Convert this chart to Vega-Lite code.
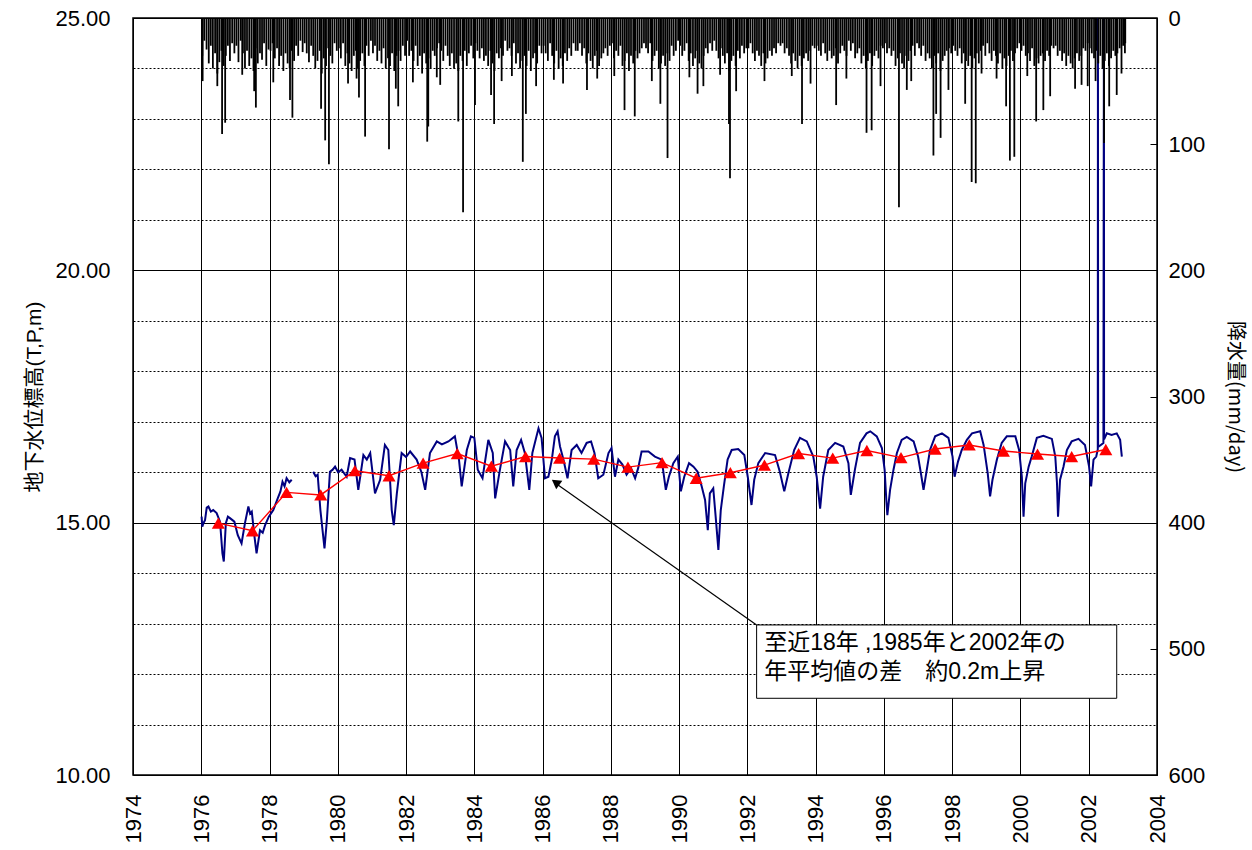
{
"$schema": "https://vega.github.io/schema/vega-lite/v6.json",
"width": 1024, "height": 757,
"autosize": {"type": "none"},
"padding": {"left": 133, "top": 18, "right": 95, "bottom": 75},
"background": "#ffffff",
"config": {"view": {"stroke": "#000000", "strokeWidth": 1.5}, "axis": {"labelColor": "#000000", "titleColor": "#000000", "labelFont": "Liberation Sans", "titleFont": "Liberation Sans, Noto Sans CJK JP", "titleFontWeight": "normal"}},
"datasets": {
"gw": [
{"t":1976.01,"g":15.12},{"t":1976.03,"g":14.92},{"t":1976.07,"g":15.0},{"t":1976.11,"g":15.05},{"t":1976.16,"g":15.3},{"t":1976.21,"g":15.32},{"t":1976.28,"g":15.22},{"t":1976.35,"g":15.25},{"t":1976.45,"g":15.19},{"t":1976.55,"g":15.02},{"t":1976.62,"g":14.39},{"t":1976.66,"g":14.23},{"t":1976.72,"g":14.99},{"t":1976.78,"g":15.12},{"t":1976.84,"g":15.09},{"t":1976.97,"g":15.02},
{"t":1977.07,"g":14.75},{"t":1977.18,"g":14.59},{"t":1977.28,"g":14.99},{"t":1977.38,"g":15.32},{"t":1977.43,"g":15.18},{"t":1977.48,"g":15.22},{"t":1977.56,"g":14.72},{"t":1977.62,"g":14.39},{"t":1977.72,"g":14.85},{"t":1977.8,"g":14.8},{"t":1977.87,"g":14.95},{"t":1977.98,"g":15.12},
{"t":1978.11,"g":15.25},{"t":1978.24,"g":15.48},{"t":1978.32,"g":15.62},{"t":1978.38,"g":15.81},{"t":1978.44,"g":15.72},{"t":1978.5,"g":15.88},{"t":1978.58,"g":15.8},{"t":1978.65,"g":15.85},{"t":1978.9,"g":null},
{"t":1979.28,"g":16.01},{"t":1979.35,"g":15.92},{"t":1979.41,"g":15.95},{"t":1979.49,"g":15.25},{"t":1979.61,"g":14.49},{"t":1979.68,"g":15.05},{"t":1979.77,"g":16.01},{"t":1979.85,"g":16.05},{"t":1979.92,"g":16.11},
{"t":1980.01,"g":16.0},{"t":1980.11,"g":16.05},{"t":1980.26,"g":15.91},{"t":1980.36,"g":16.28},{"t":1980.49,"g":16.25},{"t":1980.6,"g":15.65},{"t":1980.75,"g":16.34},{"t":1980.85,"g":16.25},{"t":1980.95,"g":16.38},
{"t":1981.09,"g":15.58},{"t":1981.24,"g":15.85},{"t":1981.38,"g":16.54},{"t":1981.48,"g":16.44},{"t":1981.58,"g":15.25},{"t":1981.64,"g":14.95},{"t":1981.73,"g":15.58},{"t":1981.87,"g":16.38},
{"t":1982.0,"g":16.3},{"t":1982.12,"g":16.41},{"t":1982.31,"g":16.25},{"t":1982.45,"g":16.0},{"t":1982.56,"g":15.65},{"t":1982.7,"g":16.38},{"t":1982.9,"g":16.61},
{"t":1983.05,"g":16.55},{"t":1983.24,"g":16.61},{"t":1983.43,"g":16.71},{"t":1983.55,"g":16.25},{"t":1983.63,"g":15.72},{"t":1983.78,"g":16.44},{"t":1983.9,"g":16.71},
{"t":1984.0,"g":16.68},{"t":1984.1,"g":16.05},{"t":1984.24,"g":15.88},{"t":1984.41,"g":16.64},{"t":1984.54,"g":16.38},{"t":1984.61,"g":15.48},{"t":1984.75,"g":16.05},{"t":1984.9,"g":16.61},
{"t":1985.05,"g":16.44},{"t":1985.14,"g":15.72},{"t":1985.24,"g":16.44},{"t":1985.37,"g":16.64},{"t":1985.48,"g":16.38},{"t":1985.61,"g":15.65},{"t":1985.7,"g":16.38},{"t":1985.88,"g":16.87},{"t":1985.97,"g":16.68},
{"t":1986.07,"g":15.88},{"t":1986.17,"g":15.91},{"t":1986.27,"g":16.25},{"t":1986.36,"g":16.71},{"t":1986.44,"g":16.81},{"t":1986.51,"g":16.51},{"t":1986.61,"g":16.25},{"t":1986.73,"g":15.88},{"t":1986.85,"g":16.44},
{"t":1987.0,"g":16.54},{"t":1987.14,"g":16.38},{"t":1987.29,"g":16.58},{"t":1987.42,"g":16.61},{"t":1987.52,"g":16.38},{"t":1987.63,"g":15.88},{"t":1987.78,"g":15.95},{"t":1987.93,"g":16.38},
{"t":1988.02,"g":16.48},{"t":1988.12,"g":15.91},{"t":1988.22,"g":16.25},{"t":1988.34,"g":16.15},{"t":1988.46,"g":15.95},{"t":1988.59,"g":16.08},{"t":1988.71,"g":15.88},{"t":1988.8,"g":16.08},{"t":1988.9,"g":16.41},
{"t":1989.1,"g":16.41},{"t":1989.29,"g":16.31},{"t":1989.49,"g":16.25},{"t":1989.61,"g":15.65},{"t":1989.7,"g":15.91},{"t":1989.83,"g":16.18},{"t":1989.96,"g":16.31},
{"t":1990.05,"g":15.62},{"t":1990.15,"g":15.91},{"t":1990.29,"g":16.18},{"t":1990.42,"g":16.11},{"t":1990.54,"g":16.01},{"t":1990.66,"g":15.72},{"t":1990.76,"g":15.45},{"t":1990.84,"g":14.85},{"t":1990.9,"g":15.58},
{"t":1991.0,"g":15.68},{"t":1991.07,"g":15.12},{"t":1991.15,"g":14.46},{"t":1991.22,"g":15.25},{"t":1991.31,"g":15.72},{"t":1991.42,"g":16.25},{"t":1991.54,"g":16.44},{"t":1991.73,"g":16.46},{"t":1991.91,"g":16.34},
{"t":1992.01,"g":15.91},{"t":1992.12,"g":15.35},{"t":1992.2,"g":15.85},{"t":1992.32,"g":16.18},{"t":1992.52,"g":16.38},{"t":1992.81,"g":16.34},{"t":1992.95,"g":16.01},
{"t":1993.08,"g":15.62},{"t":1993.2,"g":15.98},{"t":1993.37,"g":16.44},{"t":1993.54,"g":16.68},{"t":1993.74,"g":16.61},{"t":1993.93,"g":16.31},
{"t":1994.03,"g":15.91},{"t":1994.13,"g":15.28},{"t":1994.22,"g":15.91},{"t":1994.37,"g":16.44},{"t":1994.57,"g":16.58},{"t":1994.81,"g":16.51},{"t":1994.96,"g":16.18},
{"t":1995.03,"g":15.55},{"t":1995.15,"g":16.05},{"t":1995.3,"g":16.58},{"t":1995.49,"g":16.77},{"t":1995.6,"g":16.81},{"t":1995.79,"g":16.71},{"t":1995.94,"g":16.48},
{"t":1996.02,"g":16.05},{"t":1996.07,"g":15.45},{"t":1996.1,"g":15.15},{"t":1996.18,"g":15.65},{"t":1996.28,"g":16.05},{"t":1996.38,"g":16.38},{"t":1996.52,"g":16.64},{"t":1996.67,"g":16.7},{"t":1996.87,"g":16.61},
{"t":1997.0,"g":16.31},{"t":1997.09,"g":15.95},{"t":1997.16,"g":15.65},{"t":1997.24,"g":15.98},{"t":1997.35,"g":16.44},{"t":1997.5,"g":16.71},{"t":1997.7,"g":16.77},{"t":1997.89,"g":16.68},
{"t":1998.01,"g":16.31},{"t":1998.07,"g":15.91},{"t":1998.17,"g":16.21},{"t":1998.28,"g":16.44},{"t":1998.43,"g":16.64},{"t":1998.58,"g":16.77},{"t":1998.82,"g":16.81},{"t":1998.92,"g":16.54},
{"t":1999.04,"g":15.98},{"t":1999.11,"g":15.52},{"t":1999.18,"g":15.85},{"t":1999.31,"g":16.25},{"t":1999.45,"g":16.58},{"t":1999.6,"g":16.71},{"t":1999.85,"g":16.71},{"t":1999.96,"g":16.44},
{"t":2000.04,"g":15.91},{"t":2000.09,"g":15.12},{"t":2000.14,"g":15.78},{"t":2000.24,"g":16.11},{"t":2000.33,"g":16.31},{"t":2000.48,"g":16.68},{"t":2000.67,"g":16.72},{"t":2000.92,"g":16.66},
{"t":2001.02,"g":16.31},{"t":2001.07,"g":15.78},{"t":2001.1,"g":15.12},{"t":2001.16,"g":15.85},{"t":2001.26,"g":16.11},{"t":2001.36,"g":16.44},{"t":2001.5,"g":16.61},{"t":2001.7,"g":16.66},{"t":2001.89,"g":16.54},
{"t":2002.01,"g":16.11},{"t":2002.07,"g":15.72},{"t":2002.14,"g":16.25},{"t":2002.22,"g":16.31},{"t":2002.265,"g":16.45},{"t":2002.27,"g":25},{"t":2002.275,"g":16.5},{"t":2002.43,"g":16.58},{"t":2002.445,"g":25},{"t":2002.45,"g":16.65},{"t":2002.53,"g":16.77},{"t":2002.67,"g":16.74},{"t":2002.82,"g":16.77},{"t":2002.92,"g":16.64},{"t":2002.97,"g":16.31}
],
"mean": [
{"t":1976.5,"g":14.99},{"t":1977.5,"g":14.84},{"t":1978.5,"g":15.6},{"t":1979.5,"g":15.55},{"t":1980.5,"g":16.03},{"t":1981.5,"g":15.93},{"t":1982.5,"g":16.18},{"t":1983.5,"g":16.37},{"t":1984.5,"g":16.12},{"t":1985.5,"g":16.31},{"t":1986.5,"g":16.28},{"t":1987.5,"g":16.26},{"t":1988.5,"g":16.1},{"t":1989.5,"g":16.19},{"t":1990.5,"g":15.88},{"t":1991.5,"g":15.99},{"t":1992.5,"g":16.14},{"t":1993.5,"g":16.37},{"t":1994.5,"g":16.28},{"t":1995.5,"g":16.43},{"t":1996.5,"g":16.29},{"t":1997.5,"g":16.46},{"t":1998.5,"g":16.54},{"t":1999.5,"g":16.42},{"t":2000.5,"g":16.36},{"t":2001.5,"g":16.31},{"t":2002.5,"g":16.45}
],
"rain": [
{"t":1976.03,"p":30},{"t":1976.09,"p":18},{"t":1976.155,"p":25},{"t":1976.22,"p":36},{"t":1976.28,"p":22},{"t":1976.34,"p":40},{"t":1976.405,"p":28},{"t":1976.47,"p":44},{"t":1976.53,"p":35},{"t":1976.59,"p":26},{"t":1976.655,"p":38},{"t":1976.72,"p":30},{"t":1976.78,"p":22},{"t":1976.84,"p":34},{"t":1976.905,"p":20},{"t":1976.97,"p":28},
{"t":1977.03,"p":22},{"t":1977.09,"p":35},{"t":1977.155,"p":18},{"t":1977.22,"p":28},{"t":1977.28,"p":40},{"t":1977.34,"p":26},{"t":1977.405,"p":38},{"t":1977.47,"p":32},{"t":1977.53,"p":42},{"t":1977.59,"p":24},{"t":1977.655,"p":36},{"t":1977.72,"p":28},{"t":1977.78,"p":33},{"t":1977.84,"p":20},{"t":1977.905,"p":38},{"t":1977.97,"p":25},
{"t":1978.03,"p":26},{"t":1978.09,"p":20},{"t":1978.155,"p":32},{"t":1978.22,"p":24},{"t":1978.28,"p":38},{"t":1978.34,"p":30},{"t":1978.405,"p":42},{"t":1978.47,"p":28},{"t":1978.53,"p":36},{"t":1978.59,"p":40},{"t":1978.655,"p":26},{"t":1978.72,"p":34},{"t":1978.78,"p":22},{"t":1978.84,"p":30},{"t":1978.905,"p":18},{"t":1978.97,"p":27},
{"t":1979.03,"p":20},{"t":1979.09,"p":28},{"t":1979.155,"p":35},{"t":1979.22,"p":22},{"t":1979.28,"p":30},{"t":1979.34,"p":40},{"t":1979.405,"p":34},{"t":1979.47,"p":26},{"t":1979.53,"p":44},{"t":1979.59,"p":32},{"t":1979.655,"p":38},{"t":1979.72,"p":24},{"t":1979.78,"p":30},{"t":1979.84,"p":36},{"t":1979.905,"p":20},{"t":1979.97,"p":26},
{"t":1980.03,"p":24},{"t":1980.09,"p":32},{"t":1980.155,"p":20},{"t":1980.22,"p":38},{"t":1980.28,"p":28},{"t":1980.34,"p":36},{"t":1980.405,"p":42},{"t":1980.47,"p":30},{"t":1980.53,"p":26},{"t":1980.59,"p":40},{"t":1980.655,"p":34},{"t":1980.72,"p":28},{"t":1980.78,"p":38},{"t":1980.84,"p":22},{"t":1980.905,"p":30},{"t":1980.97,"p":18},
{"t":1981.03,"p":28},{"t":1981.09,"p":22},{"t":1981.155,"p":34},{"t":1981.22,"p":26},{"t":1981.28,"p":36},{"t":1981.34,"p":24},{"t":1981.405,"p":40},{"t":1981.47,"p":32},{"t":1981.53,"p":38},{"t":1981.59,"p":28},{"t":1981.655,"p":42},{"t":1981.72,"p":30},{"t":1981.78,"p":26},{"t":1981.84,"p":34},{"t":1981.905,"p":22},{"t":1981.97,"p":30},
{"t":1982.03,"p":18},{"t":1982.09,"p":30},{"t":1982.155,"p":26},{"t":1982.22,"p":34},{"t":1982.28,"p":22},{"t":1982.34,"p":38},{"t":1982.405,"p":30},{"t":1982.47,"p":44},{"t":1982.53,"p":28},{"t":1982.59,"p":36},{"t":1982.655,"p":32},{"t":1982.72,"p":40},{"t":1982.78,"p":26},{"t":1982.84,"p":30},{"t":1982.905,"p":24},{"t":1982.97,"p":20},
{"t":1983.03,"p":26},{"t":1983.09,"p":34},{"t":1983.155,"p":22},{"t":1983.22,"p":30},{"t":1983.28,"p":38},{"t":1983.34,"p":28},{"t":1983.405,"p":40},{"t":1983.47,"p":36},{"t":1983.53,"p":42},{"t":1983.59,"p":30},{"t":1983.655,"p":34},{"t":1983.72,"p":26},{"t":1983.78,"p":38},{"t":1983.84,"p":28},{"t":1983.905,"p":22},{"t":1983.97,"p":32},
{"t":1984.03,"p":20},{"t":1984.09,"p":26},{"t":1984.155,"p":32},{"t":1984.22,"p":24},{"t":1984.28,"p":34},{"t":1984.34,"p":30},{"t":1984.405,"p":38},{"t":1984.47,"p":26},{"t":1984.53,"p":36},{"t":1984.59,"p":42},{"t":1984.655,"p":28},{"t":1984.72,"p":32},{"t":1984.78,"p":24},{"t":1984.84,"p":30},{"t":1984.905,"p":18},{"t":1984.97,"p":26},
{"t":1985.03,"p":24},{"t":1985.09,"p":30},{"t":1985.155,"p":20},{"t":1985.22,"p":36},{"t":1985.28,"p":28},{"t":1985.34,"p":40},{"t":1985.405,"p":34},{"t":1985.47,"p":30},{"t":1985.53,"p":38},{"t":1985.59,"p":26},{"t":1985.655,"p":42},{"t":1985.72,"p":32},{"t":1985.78,"p":28},{"t":1985.84,"p":36},{"t":1985.905,"p":22},{"t":1985.97,"p":28},
{"t":1986.03,"p":22},{"t":1986.09,"p":28},{"t":1986.155,"p":34},{"t":1986.22,"p":20},{"t":1986.28,"p":30},{"t":1986.34,"p":36},{"t":1986.405,"p":26},{"t":1986.47,"p":40},{"t":1986.53,"p":32},{"t":1986.59,"p":38},{"t":1986.655,"p":28},{"t":1986.72,"p":34},{"t":1986.78,"p":24},{"t":1986.84,"p":30},{"t":1986.905,"p":20},{"t":1986.97,"p":26},
{"t":1987.03,"p":26},{"t":1987.09,"p":20},{"t":1987.155,"p":30},{"t":1987.22,"p":24},{"t":1987.28,"p":36},{"t":1987.34,"p":28},{"t":1987.405,"p":34},{"t":1987.47,"p":40},{"t":1987.53,"p":30},{"t":1987.59,"p":26},{"t":1987.655,"p":38},{"t":1987.72,"p":32},{"t":1987.78,"p":28},{"t":1987.84,"p":24},{"t":1987.905,"p":30},{"t":1987.97,"p":22},
{"t":1988.03,"p":20},{"t":1988.09,"p":32},{"t":1988.155,"p":26},{"t":1988.22,"p":30},{"t":1988.28,"p":22},{"t":1988.34,"p":38},{"t":1988.405,"p":34},{"t":1988.47,"p":28},{"t":1988.53,"p":42},{"t":1988.59,"p":30},{"t":1988.655,"p":36},{"t":1988.72,"p":26},{"t":1988.78,"p":32},{"t":1988.84,"p":28},{"t":1988.905,"p":24},{"t":1988.97,"p":20},
{"t":1989.03,"p":24},{"t":1989.09,"p":28},{"t":1989.155,"p":20},{"t":1989.22,"p":34},{"t":1989.28,"p":30},{"t":1989.34,"p":26},{"t":1989.405,"p":40},{"t":1989.47,"p":36},{"t":1989.53,"p":30},{"t":1989.59,"p":38},{"t":1989.655,"p":28},{"t":1989.72,"p":34},{"t":1989.78,"p":22},{"t":1989.84,"p":30},{"t":1989.905,"p":26},{"t":1989.97,"p":18},
{"t":1990.03,"p":22},{"t":1990.09,"p":30},{"t":1990.155,"p":26},{"t":1990.22,"p":20},{"t":1990.28,"p":34},{"t":1990.34,"p":28},{"t":1990.405,"p":38},{"t":1990.47,"p":32},{"t":1990.53,"p":26},{"t":1990.59,"p":36},{"t":1990.655,"p":40},{"t":1990.72,"p":30},{"t":1990.78,"p":24},{"t":1990.84,"p":28},{"t":1990.905,"p":20},{"t":1990.97,"p":26},
{"t":1991.03,"p":18},{"t":1991.09,"p":26},{"t":1991.155,"p":32},{"t":1991.22,"p":24},{"t":1991.28,"p":30},{"t":1991.34,"p":36},{"t":1991.405,"p":28},{"t":1991.47,"p":42},{"t":1991.53,"p":34},{"t":1991.59,"p":30},{"t":1991.655,"p":38},{"t":1991.72,"p":26},{"t":1991.78,"p":32},{"t":1991.84,"p":22},{"t":1991.905,"p":28},{"t":1991.97,"p":24},
{"t":1992.03,"p":24},{"t":1992.09,"p":20},{"t":1992.155,"p":28},{"t":1992.22,"p":34},{"t":1992.28,"p":26},{"t":1992.34,"p":30},{"t":1992.405,"p":38},{"t":1992.47,"p":28},{"t":1992.53,"p":36},{"t":1992.59,"p":32},{"t":1992.655,"p":26},{"t":1992.72,"p":30},{"t":1992.78,"p":24},{"t":1992.84,"p":28},{"t":1992.905,"p":20},{"t":1992.97,"p":22},
{"t":1993.03,"p":20},{"t":1993.09,"p":28},{"t":1993.155,"p":24},{"t":1993.22,"p":30},{"t":1993.28,"p":36},{"t":1993.34,"p":28},{"t":1993.405,"p":34},{"t":1993.47,"p":40},{"t":1993.53,"p":30},{"t":1993.59,"p":38},{"t":1993.655,"p":32},{"t":1993.72,"p":28},{"t":1993.78,"p":34},{"t":1993.84,"p":26},{"t":1993.905,"p":22},{"t":1993.97,"p":24},
{"t":1994.03,"p":22},{"t":1994.09,"p":26},{"t":1994.155,"p":30},{"t":1994.22,"p":20},{"t":1994.28,"p":28},{"t":1994.34,"p":34},{"t":1994.405,"p":26},{"t":1994.47,"p":32},{"t":1994.53,"p":30},{"t":1994.59,"p":24},{"t":1994.655,"p":36},{"t":1994.72,"p":28},{"t":1994.78,"p":22},{"t":1994.84,"p":26},{"t":1994.905,"p":30},{"t":1994.97,"p":18},
{"t":1995.03,"p":26},{"t":1995.09,"p":20},{"t":1995.155,"p":32},{"t":1995.22,"p":28},{"t":1995.28,"p":24},{"t":1995.34,"p":36},{"t":1995.405,"p":30},{"t":1995.47,"p":40},{"t":1995.53,"p":34},{"t":1995.59,"p":28},{"t":1995.655,"p":38},{"t":1995.72,"p":30},{"t":1995.78,"p":26},{"t":1995.84,"p":32},{"t":1995.905,"p":22},{"t":1995.97,"p":24},
{"t":1996.03,"p":20},{"t":1996.09,"p":28},{"t":1996.155,"p":24},{"t":1996.22,"p":30},{"t":1996.28,"p":26},{"t":1996.34,"p":38},{"t":1996.405,"p":32},{"t":1996.47,"p":28},{"t":1996.53,"p":36},{"t":1996.59,"p":40},{"t":1996.655,"p":30},{"t":1996.72,"p":34},{"t":1996.78,"p":26},{"t":1996.84,"p":22},{"t":1996.905,"p":30},{"t":1996.97,"p":20},
{"t":1997.03,"p":24},{"t":1997.09,"p":30},{"t":1997.155,"p":22},{"t":1997.22,"p":34},{"t":1997.28,"p":28},{"t":1997.34,"p":32},{"t":1997.405,"p":40},{"t":1997.47,"p":30},{"t":1997.53,"p":36},{"t":1997.59,"p":28},{"t":1997.655,"p":42},{"t":1997.72,"p":34},{"t":1997.78,"p":30},{"t":1997.84,"p":26},{"t":1997.905,"p":24},{"t":1997.97,"p":28},
{"t":1998.03,"p":22},{"t":1998.09,"p":26},{"t":1998.155,"p":30},{"t":1998.22,"p":24},{"t":1998.28,"p":36},{"t":1998.34,"p":28},{"t":1998.405,"p":34},{"t":1998.47,"p":38},{"t":1998.53,"p":30},{"t":1998.59,"p":40},{"t":1998.655,"p":32},{"t":1998.72,"p":28},{"t":1998.78,"p":36},{"t":1998.84,"p":26},{"t":1998.905,"p":22},{"t":1998.97,"p":30},
{"t":1999.03,"p":20},{"t":1999.09,"p":28},{"t":1999.155,"p":34},{"t":1999.22,"p":26},{"t":1999.28,"p":30},{"t":1999.34,"p":36},{"t":1999.405,"p":28},{"t":1999.47,"p":40},{"t":1999.53,"p":32},{"t":1999.59,"p":38},{"t":1999.655,"p":30},{"t":1999.72,"p":26},{"t":1999.78,"p":34},{"t":1999.84,"p":28},{"t":1999.905,"p":24},{"t":1999.97,"p":20},
{"t":2000.03,"p":26},{"t":2000.09,"p":22},{"t":2000.155,"p":30},{"t":2000.22,"p":28},{"t":2000.28,"p":34},{"t":2000.34,"p":24},{"t":2000.405,"p":38},{"t":2000.47,"p":32},{"t":2000.53,"p":36},{"t":2000.59,"p":30},{"t":2000.655,"p":28},{"t":2000.72,"p":34},{"t":2000.78,"p":26},{"t":2000.84,"p":30},{"t":2000.905,"p":22},{"t":2000.97,"p":24},
{"t":2001.03,"p":22},{"t":2001.09,"p":30},{"t":2001.155,"p":26},{"t":2001.22,"p":34},{"t":2001.28,"p":28},{"t":2001.34,"p":38},{"t":2001.405,"p":30},{"t":2001.47,"p":36},{"t":2001.53,"p":40},{"t":2001.59,"p":32},{"t":2001.655,"p":28},{"t":2001.72,"p":34},{"t":2001.78,"p":30},{"t":2001.84,"p":24},{"t":2001.905,"p":26},{"t":2001.97,"p":20},
{"t":2002.03,"p":24},{"t":2002.09,"p":28},{"t":2002.155,"p":32},{"t":2002.22,"p":26},{"t":2002.28,"p":36},{"t":2002.34,"p":30},{"t":2002.405,"p":40},{"t":2002.47,"p":34},{"t":2002.53,"p":28},{"t":2002.59,"p":38},{"t":2002.655,"p":32},{"t":2002.72,"p":26},{"t":2002.78,"p":30},{"t":2002.84,"p":28},{"t":2002.905,"p":24},{"t":2002.97,"p":22},
{"t":2003.03,"p":22},{"t":2003.06,"p":28},
{"t":1976.04,"p":50},{"t":1976.47,"p":54},{"t":1976.61,"p":92},{"t":1976.7,"p":83},{"t":1977.2,"p":45},{"t":1977.55,"p":58},{"t":1977.6,"p":71},{"t":1978.11,"p":51},{"t":1978.6,"p":65},{"t":1978.67,"p":79},{"t":1979.51,"p":72},{"t":1979.63,"p":97},{"t":1979.74,"p":116},{"t":1980.3,"p":52},{"t":1980.55,"p":48},{"t":1980.62,"p":63},{"t":1980.8,"p":94},{"t":1981.5,"p":104},{"t":1981.7,"p":56},{"t":1981.77,"p":70},{"t":1982.2,"p":51},{"t":1982.62,"p":98},{"t":1982.65,"p":86},{"t":1982.9,"p":47},{"t":1983.0,"p":53},{"t":1983.53,"p":82},{"t":1983.67,"p":154},{"t":1984.02,"p":69},{"t":1984.49,"p":61},{"t":1984.58,"p":84},{"t":1984.8,"p":50},{"t":1985.1,"p":46},{"t":1985.42,"p":114},{"t":1985.51,"p":76},{"t":1985.81,"p":54},{"t":1986.33,"p":49},{"t":1986.6,"p":52},{"t":1987.3,"p":57},{"t":1987.6,"p":48},{"t":1988.1,"p":46},{"t":1988.4,"p":73},{"t":1988.7,"p":78},{"t":1989.2,"p":50},{"t":1989.45,"p":68},{"t":1989.66,"p":111},{"t":1990.3,"p":47},{"t":1990.54,"p":60},{"t":1990.71,"p":54},{"t":1991.2,"p":45},{"t":1991.46,"p":84},{"t":1991.49,"p":127},{"t":1991.67,"p":58},{"t":1992.5,"p":50},{"t":1993.3,"p":46},{"t":1993.6,"p":84},{"t":1993.85,"p":52},{"t":1994.6,"p":69},{"t":1994.9,"p":48},{"t":1995.49,"p":91},{"t":1995.64,"p":89},{"t":1995.9,"p":54},{"t":1996.44,"p":150},{"t":1996.67,"p":57},{"t":1996.8,"p":50},{"t":1997.45,"p":109},{"t":1997.53,"p":76},{"t":1997.66,"p":95},{"t":1997.89,"p":57},{"t":1998.38,"p":68},{"t":1998.57,"p":130},{"t":1998.69,"p":131},{"t":1998.86,"p":44},{"t":1999.3,"p":48},{"t":1999.58,"p":70},{"t":1999.69,"p":113},{"t":1999.82,"p":110},{"t":2000.2,"p":46},{"t":2000.46,"p":82},{"t":2000.67,"p":73},{"t":2000.87,"p":62},{"t":2001.6,"p":56},{"t":2001.79,"p":53},{"t":2001.97,"p":54},{"t":2002.2,"p":50},{"t":2002.45,"p":99},{"t":2002.6,"p":70},{"t":2002.82,"p":61},{"t":2002.96,"p":44},{"t":2003.07,"p":20}
]
},
"resolve": {"scale": {"y": "independent"}},
"layer": [
{"layer": [
{"data": {"name": "gw"}, "mark": {"type": "line", "color": "#000080", "strokeWidth": 2},
 "encoding": {
  "x": {"field": "t", "type": "quantitative", "title": null, "scale": {"domain": [1974, 2004], "nice": false, "zero": false},
   "axis": {"values": [1974,1975,1976,1977,1978,1979,1980,1981,1982,1983,1984,1985,1986,1987,1988,1989,1990,1991,1992,1993,1994,1995,1996,1997,1998,1999,2000,2001,2002,2003,2004], "format": "d", "labelExpr": "datum.value % 2 === 0 ? datum.label : ''", "labelAngle": -90, "labelFontSize": 22, "labelPadding": 19, "labelOverlap": false, "labelFlush": false, "ticks": false, "domain": false, "grid": true, "gridColor": "#000000", "gridOpacity": 1, "gridWidth": 1, "gridDash": {"condition": {"test": "datum.value % 2 !== 0", "value": [2, 2]}, "value": []}}},
  "y": {"field": "g", "type": "quantitative", "title": "地下水位標高(T,P,m)", "scale": {"domain": [10, 25], "nice": false, "zero": false},
   "axis": {"values": [10,11,12,13,14,15,16,17,18,19,20,21,22,23,24,25], "labelExpr": "datum.value % 5 === 0 ? format(datum.value, '.2f') : ''", "labelFontSize": 22, "labelPadding": 23, "labelOverlap": false, "labelFlush": false, "ticks": false, "domain": false, "grid": true, "gridColor": "#000000", "gridOpacity": 1, "gridWidth": 1, "gridDash": {"condition": {"test": "datum.value % 5 !== 0", "value": [2, 2]}, "value": []}, "titleFontSize": 21, "titlePadding": 10}}
 }},
{"data": {"name": "mean"}, "mark": {"type": "line", "color": "#ff0000", "strokeWidth": 1.4},
 "encoding": {"x": {"field": "t", "type": "quantitative", "title": null}, "y": {"field": "g", "type": "quantitative", "title": "地下水位標高(T,P,m)"}}},
{"data": {"name": "mean"}, "mark": {"type": "point", "shape": "triangle-up", "filled": true, "color": "#ff0000", "size": 170, "opacity": 1},
 "encoding": {"x": {"field": "t", "type": "quantitative", "title": null}, "y": {"field": "g", "type": "quantitative", "title": "地下水位標高(T,P,m)"}}},
{"data": {"values": [{}]}, "mark": {"type": "rule", "color": "#000000", "strokeWidth": 1.2},
 "encoding": {"x": {"datum": 1992.27, "type": "quantitative", "title": null}, "y": {"datum": 12.973, "type": "quantitative", "title": "地下水位標高(T,P,m)"}, "x2": {"datum": 1986.36}, "y2": {"datum": 15.79}}},
{"data": {"values": [{}]}, "mark": {"type": "point", "shape": "triangle-up", "filled": true, "color": "#000000", "size": 110, "opacity": 1, "angle": 305.8},
 "encoding": {"x": {"datum": 1986.38, "type": "quantitative", "title": null}, "y": {"datum": 15.8, "type": "quantitative", "title": "地下水位標高(T,P,m)"}}},
{"data": {"values": [{}]}, "mark": {"type": "rect", "fill": "#ffffff", "stroke": "#000000", "strokeWidth": 1},
 "encoding": {"x": {"datum": 1992.27, "type": "quantitative", "title": null}, "x2": {"datum": 2002.82}, "y": {"datum": 12.973, "type": "quantitative", "title": "地下水位標高(T,P,m)"}, "y2": {"datum": 11.52}}},
{"data": {"values": [{}]}, "mark": {"type": "text", "text": "至近18年 ,1985年と2002年の", "align": "left", "baseline": "middle", "fontSize": 23, "font": "Liberation Sans, Noto Sans CJK JP", "color": "#000000"},
 "encoding": {"x": {"datum": 1992.49, "type": "quantitative", "title": null}, "y": {"datum": 12.62, "type": "quantitative", "title": "地下水位標高(T,P,m)"}}},
{"data": {"values": [{}]}, "mark": {"type": "text", "text": "年平均値の差　約0.2m上昇", "align": "left", "baseline": "middle", "fontSize": 23, "font": "Liberation Sans, Noto Sans CJK JP", "color": "#000000"},
 "encoding": {"x": {"datum": 1992.49, "type": "quantitative", "title": null}, "y": {"datum": 12.04, "type": "quantitative", "title": "地下水位標高(T,P,m)"}}}
]},
{"data": {"name": "rain"}, "mark": {"type": "rule", "color": "#000000", "strokeWidth": 1.8},
 "encoding": {
  "x": {"field": "t", "type": "quantitative", "title": null},
  "y": {"field": "p", "type": "quantitative", "title": "降水量(mm/day)", "scale": {"domain": [0, 600], "reverse": true, "nice": false, "zero": true},
   "axis": {"orient": "right", "values": [0,100,200,300,400,500,600], "format": "d", "labelFontSize": 22, "labelPadding": 18, "labelOverlap": false, "labelFlush": false, "grid": false, "domain": false, "ticks": true, "tickSize": -7, "tickColor": "#000000", "tickWidth": 1, "titleFont": "Noto Sans CJK JP", "titleFontSize": 20, "titlePadding": 20}},
  "y2": {"datum": 0}
 }}
]
}
